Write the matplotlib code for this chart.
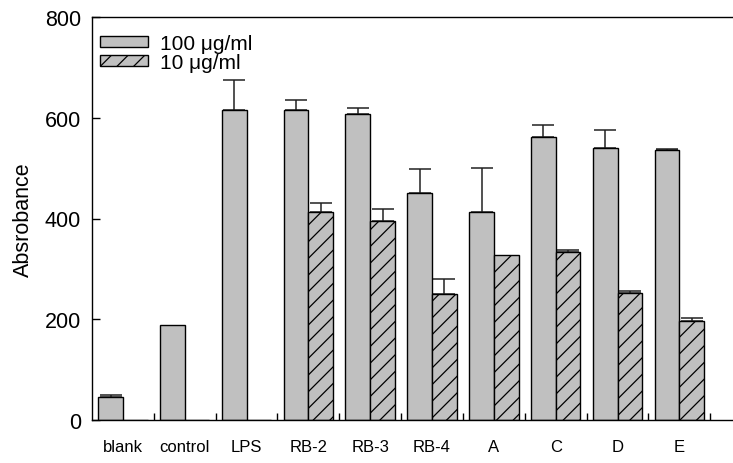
import numpy as np
import matplotlib
matplotlib.use("Agg")
import matplotlib.pyplot as plt

plt.rcParams['font.family'] = ['Liberation Sans', 'DejaVu Sans']
plt.rcParams['hatch.linewidth'] = 0.9

categories = ["blank", "control", "LPS", "RB-2", "RB-3", "RB-4", "A", "C", "D", "E"]
high_dose = [46, 189, 616, 616, 608, 450, 413, 562, 540, 536]
high_err = [4, 0, 59, 19, 12, 49, 87, 23, 35, 2]
low_dose = [0, 0, 0, 413, 396, 251, 328, 333, 253, 196]
low_err = [0, 0, 0, 18, 23, 29, 0, 5, 4, 6]
series_labels = ["100 \u03bcg/ml", "10 \u03bcg/ml"]
y_ticks = [0, 200, 400, 600, 800]

fig = plt.figure(figsize=(7.33, 4.64), dpi=100)
ax = fig.add_axes([92 / 733, 43 / 464, 643 / 733, 403 / 464])

x = np.arange(len(categories))
w = 0.4
bar_color = "#c0c0c0"
err_kw = dict(ecolor="#222222", elinewidth=1.1, capsize=8, capthick=1.1)

b1 = ax.bar(x - w / 2, high_dose, w, color=bar_color, edgecolor="black",
            linewidth=1.0, label=series_labels[0], zorder=2)
b2 = ax.bar(x + w / 2, low_dose, w, color=bar_color, edgecolor="black",
            linewidth=1.0, hatch="//", label=series_labels[1], zorder=2)

for xs, vals, errs in ((x - w / 2, high_dose, high_err), (x + w / 2, low_dose, low_err)):
    for xi, v, e in zip(xs, vals, errs):
        if e > 0:
            ax.errorbar(xi, v, yerr=[[0], [e]], fmt="none", zorder=1, **err_kw)

ax.set_xlim(-0.5, 9.9)
ax.set_ylim(0, 800)
ax.set_yticks(y_ticks)
ax.tick_params(axis="y", direction="in", length=5.5, width=1, labelsize=15.5, pad=8)

# group boundaries as inward ticks, category names as label-only minor ticks
ax.set_xticks(x + 0.5)
ax.set_xticklabels([])
ax.tick_params(axis="x", which="major", direction="in", length=5, width=1)
ax.set_xticks(x, minor=True)
ax.set_xticklabels(categories, minor=True)
ax.tick_params(axis="x", which="minor", length=0, labelsize=12, pad=14)

ax.set_ylabel("Absrobance", fontsize=15.5, labelpad=8)

ax.spines["right"].set_visible(False)
for s in ("left", "bottom", "top"):
    ax.spines[s].set_linewidth(1.0)
    ax.spines[s].set_color("black")

leg = ax.legend(loc="upper left", bbox_to_anchor=(0.0, 0.978), frameon=False,
                fontsize=15, handlelength=2.3, handleheight=0.4,
                handletextpad=0.55, labelspacing=0.0, borderpad=0.0,
                borderaxespad=0.4)

fig.savefig("out.png", dpi=100)
